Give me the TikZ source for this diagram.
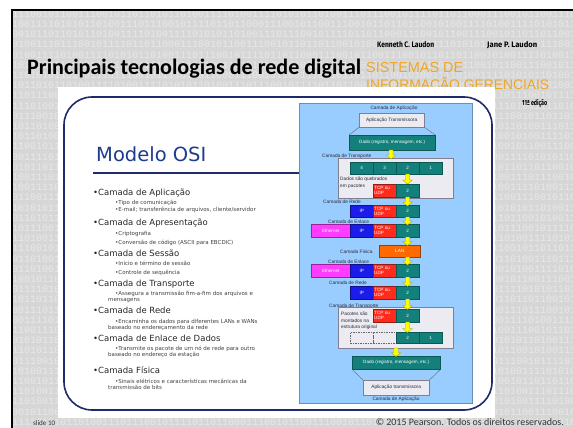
\documentclass[tikz,border=0pt]{standalone}
\usepackage{fontspec}
\usepackage{graphicx}
\setmainfont{Liberation Sans}
\newfontfamily\titlef{Carlito}
\newfontfamily\verd{DejaVu Sans}
\newfontfamily\monof{Liberation Mono}
\newfontfamily\authf{Fira Sans}
\definecolor{slidegray}{HTML}{D6D6D6}
\definecolor{digitc}{HTML}{E8E8E8}
\definecolor{orangeT}{HTML}{EEA626}
\definecolor{navy}{HTML}{1F2A6B}
\definecolor{osiblue}{HTML}{1E3C8C}
\definecolor{panelblue}{HTML}{99CCFF}
\definecolor{tealc}{HTML}{13807B}
\definecolor{tealdark}{HTML}{0B5855}
\definecolor{ipblue}{HTML}{1B1BEA}
\definecolor{tcpred}{HTML}{FF2B1C}
\definecolor{ethmag}{HTML}{FF3CFF}
\definecolor{lanor}{HTML}{FF6A00}
\definecolor{yel}{HTML}{FFFF00}
\definecolor{yeldark}{HTML}{A0A000}
\definecolor{boxgray}{HTML}{EBEBF1}
\definecolor{boxline}{HTML}{7F7F8F}
\definecolor{lblc}{HTML}{2A2A3A}
\newcommand\binS{11100101100111001011011010110100111101001111010101101001110111001011110110110001110010110011100101101101100101001111010011110101011010011101110010111101101100011100101100111001011011011001010011110100111101}
\newcommand\cellbox[7]{\node[#2, anchor=north west, minimum width={(#5)-(#3)}, minimum height={(#6)-(#4)}] (#1) at (#3,#4) {#7};}
\newcommand\yarr[4]{\coordinate (#1) at (#2,#3);
  \filldraw[yarrow] (#2-2,#3) -- (#2+2,#3) -- (#2+2,#4-4) -- (#2+4.8,#4-4) -- (#2,#4) -- (#2-4.8,#4-4) -- (#2-2,#4-4) -- cycle;}
\tikzset{
  cellt/.style={draw=tealdark, fill=tealc, text=white, inner sep=0pt, line width=0.4pt, font=\fontsize{4.6}{5}\selectfont},
  cellip/.style={cellt, draw=ipblue!60!black, fill=ipblue},
  celltcp/.style={cellt, draw=tcpred!60!black, fill=tcpred, align=left, text width=21pt},
  celleth/.style={cellt, draw=ethmag!60!black, fill=ethmag},
  celllan/.style={cellt, draw=lanor!60!black, fill=lanor},
  grayb/.style={draw=boxline, fill=boxgray, text=lblc, inner sep=0pt, line width=0.4pt, font=\fontsize{4.8}{5}\selectfont},
  dashb/.style={draw=black!60, dashed, dash pattern=on 1.5pt off 1pt, line width=0.4pt, inner sep=0pt},
  lbl/.style={text=lblc, inner sep=0pt, font=\fontsize{4.8}{6.5}\selectfont},
  trap/.style={draw=black!60, line width=0.4pt},
  yarrow/.style={fill=yel, draw=yeldark, line width=0.3pt},
  mainb/.style={anchor=base west, inner sep=0pt, text=black!85, font=\verd\fontsize{8.5}{9}\selectfont},
  subb/.style={anchor=base west, inner sep=0pt, text=black!75, font=\verd\fontsize{5.5}{6}\selectfont},
}
\begin{document}
\begin{tikzpicture}[x=1pt,y=-1pt]
\useasboundingbox (0,0) rectangle (573,428);
\fill[white] (0,0) rectangle (573,428);
\fill[slidegray] (12,10) rectangle (573,428);
\begin{scope}
\clip (12,10) rectangle (573,428);
\foreach \k in {0,...,40}{
  \pgfmathsetmacro\yy{14+10.2*\k}
  \pgfmathsetmacro\xx{12-6*mod(\k*37,60)}
  \node[anchor=west, inner sep=0pt, text=digitc, font=\monof\fontsize{10}{10}\selectfont] (bin\k) at (\xx,\yy) {\binS};
}
\end{scope}
\draw[line width=2.2pt] (12,428) -- (12,10) -- (573,10);
% header
\node[anchor=base west, inner sep=0pt] (title) at (27,75) {\resizebox{334pt}{!}{\titlef\bfseries Principais tecnologias de rede digital}};
\node[anchor=base west, inner sep=0pt, text=orangeT] (sis1) at (366,73) {\resizebox{97pt}{!}{SISTEMAS DE}};
\node[anchor=base west, inner sep=0pt, text=orangeT] (sis2) at (366,89) {\resizebox{183pt}{!}{INFORMAÇÃO GERENCIAIS}};
\node[anchor=base west, inner sep=0pt] (ken) at (377,48) {\resizebox{57pt}{6pt}{\authf\bfseries Kenneth C. Laudon}};
\node[anchor=base west, inner sep=0pt] (jane) at (487,48) {\resizebox{50pt}{6pt}{\authf\bfseries Jane P. Laudon}};
\node[anchor=base west, inner sep=0pt] (ed) at (522,106) {\resizebox{25pt}{6pt}{\authf\bfseries 11ª edição}};
% content area
\fill[white] (58,87) rectangle (495,418);
\draw[navy, line width=1.6pt, rounded corners=28pt] (64,97) rectangle (492,410);
\fill[panelblue] (299,103) rectangle (472,403);
\draw[panelblue!70!black, line width=0.4pt] (299,103) rectangle (472,403);
% left list
\node[anchor=base west, inner sep=0pt, text=osiblue, font=\verd\fontsize{19.5}{19.5}\selectfont] (osi) at (96,161) {Modelo OSI};
\draw[navy, line width=1.3pt] (93,173) -- (299,173);
\node[mainb] (m1) at (93,195) {•Camada de Aplicação};
\node[subb] (s11) at (115,204) {•Tipo de comunicação};
\node[subb] (s12) at (115,211.5) {•E-mail; transferência de arquivos, cliente/servidor};
\node[mainb] (m2) at (93,225) {•Camada de Apresentação};
\node[subb] (s21) at (115,235) {•Criptografia};
\node[subb] (s22) at (115,244) {•Conversão de código (ASCII para EBCDIC)};
\node[mainb] (m3) at (93,256) {•Camada de Sessão};
\node[subb] (s31) at (115,265) {•Início e término de sessão};
\node[subb] (s32) at (115,274) {•Controle de sequência};
\node[mainb] (m4) at (93,286) {•Camada de Transporte};
\node[subb] (s41) at (115,295) {•Assegura a transmissão fim-a-fim dos arquivos e};
\node[subb] (s42) at (108,301.5) {mensagens};
\node[mainb] (m5) at (93,313) {•Camada de Rede};
\node[subb] (s51) at (115,323) {•Encaminha os dados para diferentes LANs e WANs};
\node[subb] (s52) at (108,329.5) {baseado no endereçamento da rede};
\node[mainb] (m6) at (93,341) {•Camada de Enlace de Dados};
\node[subb] (s61) at (115,350) {•Transmite os pacote de um nó de rede para outro};
\node[subb] (s62) at (108,356.5) {baseado no endereço da estação};
\node[mainb] (m7) at (93,373) {•Camada Física};
\node[subb] (s71) at (115,383) {•Sinais elétricos e características mecânicas da};
\node[subb] (s72) at (108,389.5) {transmissão de bits};
% diagram
\node[lbl] (lapp1) at (394,108) {Camada de Aplicação};
\cellbox{app1}{grayb}{359}{113}{424}{127}{Aplicação Transmissora}
\cellbox{dado1}{cellt}{349}{135}{435}{150}{Dado (registro, mensagem, etc.)}
\draw[trap] (app1.south west) -- (dado1.north west);
\draw[trap] (app1.south east) -- (dado1.north east);
\node[lbl, anchor=west] (ltr1) at (322,156) {Camada de Transporte};
\cellbox{tr1}{grayb}{338}{158}{453}{198}{}
\cellbox{s4}{cellt}{350}{162}{373}{174}{4}
\cellbox{s3}{cellt}{373}{162}{396}{174}{3}
\cellbox{s2}{cellt}{396}{162}{419}{174}{2}
\cellbox{s1}{cellt}{419}{162}{442}{174}{1}
\node[lbl, anchor=north west, align=left] (quebr) at (340,177) {Dados são quebrados\\em pacotes};
\cellbox{tcp1}{celltcp}{373}{184}{396}{197}{TCP ou\\UDP}
\cellbox{p1}{cellt}{396}{184}{419}{197}{2}
\node[lbl, anchor=west] (lrede1) at (323,202) {Camada de Rede};
\cellbox{ipr1}{cellip}{350}{205}{373}{217}{IP}
\cellbox{tcpr1}{celltcp}{373}{205}{396}{217}{TCP ou\\UDP}
\cellbox{pr1}{cellt}{396}{205}{419}{217}{2}
\node[lbl, anchor=west] (lenl1) at (328,222) {Camada de Enlace};
\cellbox{ethe1}{celleth}{311}{224}{350}{237}{Ethernet}
\cellbox{ipe1}{cellip}{350}{224}{373}{237}{IP}
\cellbox{tcpe1}{celltcp}{373}{224}{396}{237}{TCP ou\\UDP}
\cellbox{pe1}{cellt}{396}{224}{419}{237}{2}
\node[lbl, anchor=west] (lfis) at (340,252) {Camada Física};
\cellbox{lan}{celllan}{379}{245}{420}{257}{LAN}
\node[lbl, anchor=west] (lenl2) at (328,262) {Camada de Enlace};
\cellbox{ethe2}{celleth}{311}{264}{350}{277}{Ethernet}
\cellbox{ipe2}{cellip}{350}{264}{373}{277}{IP}
\cellbox{tcpe2}{celltcp}{373}{264}{396}{277}{TCP ou\\UDP}
\cellbox{pe2}{cellt}{396}{264}{419}{277}{2}
\node[lbl, anchor=west] (lrede2) at (329,283) {Camada de Rede};
\cellbox{ipr2}{cellip}{350}{286}{373}{299}{IP}
\cellbox{tcpr2}{celltcp}{373}{286}{396}{299}{TCP ou\\UDP}
\cellbox{pr2}{cellt}{396}{286}{419}{299}{2}
\node[lbl, anchor=west] (ltr2) at (329,306) {Camada de Transporte};
\cellbox{tr2}{grayb}{338}{307}{453}{348}{}
\cellbox{tcp2}{celltcp}{373}{309}{396}{322}{TCP ou\\UDP}
\cellbox{p2}{cellt}{396}{309}{419}{322}{2}
\node[lbl, anchor=north west, align=left] (mont) at (341,312) {Pacotes são\\montados na\\estrutura original};
\cellbox{d4}{dashb}{350}{332}{373}{343}{}
\cellbox{d3}{dashb}{373}{332}{396}{343}{}
\cellbox{q2}{cellt}{396}{332}{419}{343}{2}
\cellbox{q1}{cellt}{419}{332}{442}{343}{1}
\cellbox{dado2}{cellt}{352}{356}{440}{369}{Dado (registro, mensagem, etc.)}
\cellbox{app2}{grayb}{363}{380}{429}{395}{Aplicação transmissora}
\draw[trap] (dado2.south west) -- (app2.north west);
\draw[trap] (dado2.south east) -- (app2.north east);
\node[lbl] (lapp2) at (396,399.5) {Camada de Aplicação};
% arrows
\yarr{a1}{391}{150}{159}
\yarr{a2}{407.5}{174}{184}
\yarr{a3}{407.5}{197}{206}
\yarr{a4}{407.5}{217}{225}
\yarr{a5}{407.5}{237}{245.5}
\yarr{a6}{407.5}{257}{265}
\yarr{a7}{407.5}{277}{286.5}
\yarr{a8}{407.5}{299}{309.5}
\yarr{a9}{407.5}{322}{332.5}
\yarr{a10}{396}{348}{356.5}
% footer
\node[anchor=base west, inner sep=0pt, text=black!80] (slide) at (33,425) {\resizebox{22pt}{!}{\titlef slide 10}};
\node[anchor=base east, inner sep=0pt, text=black!80] (copy) at (564,425) {\resizebox{188pt}{!}{\titlef © 2015 Pearson. Todos os direitos reservados.}};
\end{tikzpicture}
\end{document}
